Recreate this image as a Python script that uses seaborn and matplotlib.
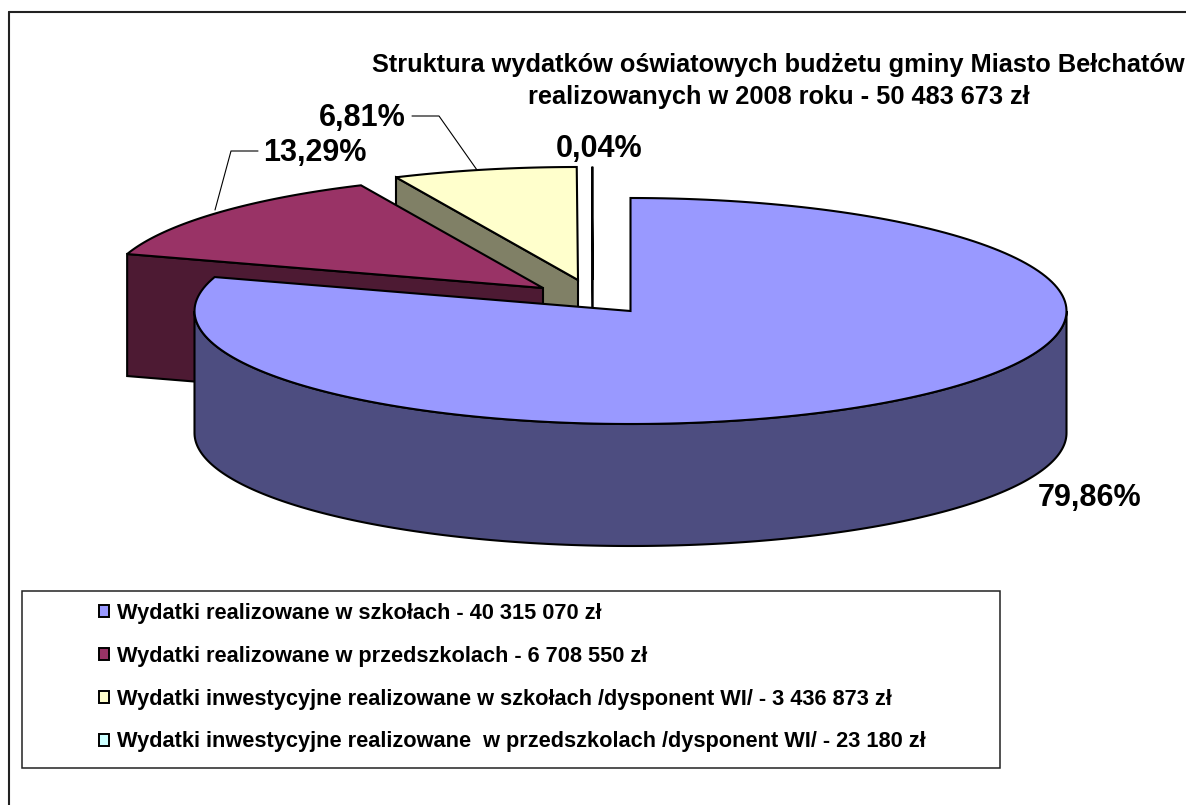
import numpy as np
import matplotlib
matplotlib.use("Agg")
import matplotlib.pyplot as plt
from matplotlib.patches import Patch, Rectangle
import seaborn as sns

title_lines = ["Struktura wydatków oświatowych budżetu gminy Miasto Bełchatów",
               "realizowanych w 2008 roku - 50 483 673 zł"]
categories = ["Wydatki realizowane w szkołach - 40 315 070 zł",
              "Wydatki realizowane w przedszkolach - 6 708 550 zł",
              "Wydatki inwestycyjne realizowane w szkołach /dysponent WI/ - 3 436 873 zł",
              "Wydatki inwestycyjne realizowane  w przedszkolach /dysponent WI/ - 23 180 zł"]
values = [40315070, 6708550, 3436873, 23180]
percent_labels = ["79,86%", "13,29%", "6,81%", "0,04%"]
top_colors = ["#9999FF", "#993366", "#FFFFCC", "#CCFFFF"]
side_colors = ["#4D4D80", "#4D1A33", "#808066", "#668080"]

sns.set_theme(style="white")
plt.rcParams["font.family"] = ["Liberation Sans", "DejaVu Sans"]
top_pal = sns.color_palette(top_colors)
side_pal = sns.color_palette(side_colors)

fig, ax = plt.subplots(figsize=(11.86, 8.05), dpi=100)
ax.set_position([0, 0, 1, 1])
ax.set_xlim(0, 1186)
ax.set_ylim(805, 0)
ax.axis("off")

RX, RY, DEPTH = 436, 113, 122
apexes = [(630.5, 311), (543, 288), (578, 280), (593, 280)]
fracs = np.array(values) / np.sum(values)
edges = np.concatenate([[0], np.cumsum(fracs)]) * 2 * np.pi
K = "#000000"


def arc(i, a0, a1, dy=0):
    t = np.linspace(a0, a1, 200)
    cx, cy = apexes[i]
    return cx + RX * np.sin(t), cy + dy - RY * np.cos(t)


def wedge(i, z):
    lw = 1.0 if i == 3 else 1.5
    t0, t1 = edges[i], edges[i + 1]
    cx, cy = apexes[i]
    x, y = arc(i, t0, t1)
    if i > 0:
        xw = [x[0], cx, cx, x[0]]
        yw = [y[0], cy, cy + DEPTH, y[0] + DEPTH]
        ax.fill(xw, yw, facecolor=side_pal[i], edgecolor=K, lw=lw, zorder=z)
    else:
        xo, yo = arc(0, np.pi / 2, 1.5 * np.pi)
        xb, yb = arc(0, 1.5 * np.pi, np.pi / 2, DEPTH)
        ax.fill(np.r_[xo, xb], np.r_[yo, yb], facecolor=side_pal[0], edgecolor=K, lw=lw, zorder=z)
    ax.fill(np.r_[cx, x], np.r_[cy, y], facecolor=top_pal[i], edgecolor=K, lw=lw, zorder=z + 0.1)


for z, i in zip([2, 3, 4, 5], [3, 2, 1, 0]):
    wedge(i, z)

# frame of the chart area
ax.plot([9, 9], [805, 12.5], color="#222222", lw=1.5, zorder=1)
ax.plot([9, 1186], [12.5, 12.5], color="#222222", lw=1.5, zorder=1)

# title
for ty, line in zip([65, 97], title_lines):
    ax.text(778.5, ty, line, ha="center", va="center", fontsize=18.25,
            fontweight="bold", color="black", zorder=8)

# percent labels
label_pos = [(1089.5, 498), (315, 153), (362.5, 118), (599, 149)]
for lab, (lx, ly) in zip(percent_labels, label_pos):
    ax.text(lx, ly, lab, ha="center", va="center", fontsize=22, fontweight="bold", color="black", zorder=8)

# leader lines
ax.plot([215, 231, 258], [210, 151, 151], color="black", lw=0.8, zorder=7)
ax.plot([412, 439, 477], [116, 116, 170], color="black", lw=0.8, zorder=7)

# legend
ax.add_patch(Rectangle((22, 591), 978, 177, facecolor="white", edgecolor="#222222", lw=1.1, zorder=6))
handles = [Patch(facecolor=c, edgecolor="black", lw=1.4) for c in top_pal]
leg = ax.legend(handles, categories, loc="upper left", bbox_to_anchor=(92, 596.5), bbox_transform=ax.transData,
                frameon=False, prop={"weight": "bold", "size": 15.7}, labelcolor="black", labelspacing=1.0,
                handlelength=0.46, handleheight=0.46, handletextpad=0.4, borderpad=0, borderaxespad=0.3)
leg.set_zorder(7)

fig.savefig("out.png", dpi=100)
